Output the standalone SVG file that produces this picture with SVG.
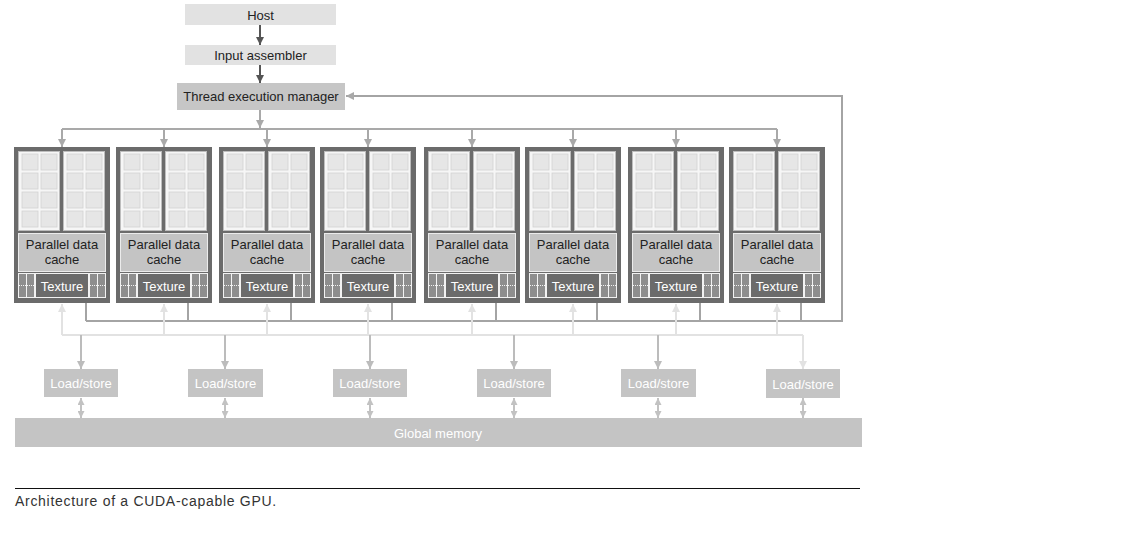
<svg xmlns="http://www.w3.org/2000/svg" xmlns:xlink="http://www.w3.org/1999/xlink" width="1130" height="542" viewBox="0 0 1130 542">
  <style>
    text { font-family: "Liberation Sans", Arial, sans-serif; }
    .box-light { fill: #e2e2e2; }
    .box-tem { fill: #c6c6c6; }
    .lbl-dark { font-size: 13px; fill: #222; text-anchor: middle; }
    .sm-frame { fill: #6b6b6b; }
    .pdc { fill: #c4c4c4; stroke: #ececec; stroke-width: 1; }
    .pdc-t { font-size: 13px; fill: #222; text-anchor: middle; }
    .tex-row { fill: #f2f2f2; }
    .tex { fill: #6b6b6b; }
    .tex-t { font-size: 13px; fill: #fff; text-anchor: middle; }
    .ls { fill: #c4c4c4; }
    .lbl-white { font-size: 13px; fill: #fff; text-anchor: middle; }
    .bus { fill: none; stroke: #a9a9a9; stroke-width: 2; }
    .ret { fill: none; stroke: #a4a4a4; stroke-width: 2; }
    .up { fill: none; stroke: #e2e2e2; stroke-width: 2; }
    .down { fill: none; stroke: #bcbcbc; stroke-width: 2; }
    .down-light { fill: none; stroke: #e2e2e2; stroke-width: 2; }
    .mem { fill: none; stroke: #c2c2c2; stroke-width: 2; }
    .host { fill: none; stroke: #555; stroke-width: 2; }
  </style>
  <defs>
    <marker id="ah-host" viewBox="0 0 10 10" refX="10" refY="5" markerWidth="8" markerHeight="8" markerUnits="userSpaceOnUse" orient="auto">
      <path d="M0,0 L10,5 L0,10 z" fill="#555"/>
    </marker>
    <marker id="ah-bus" viewBox="0 0 10 10" refX="10" refY="5" markerWidth="8" markerHeight="8" markerUnits="userSpaceOnUse" orient="auto">
      <path d="M0,0 L10,5 L0,10 z" fill="#a9a9a9"/>
    </marker>
    <marker id="ah-up" viewBox="0 0 10 10" refX="10" refY="5" markerWidth="8" markerHeight="8" markerUnits="userSpaceOnUse" orient="auto">
      <path d="M0,0 L10,5 L0,10 z" fill="#e2e2e2"/>
    </marker>
    <marker id="ah-down" viewBox="0 0 10 10" refX="10" refY="5" markerWidth="8" markerHeight="8" markerUnits="userSpaceOnUse" orient="auto">
      <path d="M0,0 L10,5 L0,10 z" fill="#bcbcbc"/>
    </marker>
    <marker id="ah-mem" viewBox="0 0 10 10" refX="10" refY="5" markerWidth="7" markerHeight="7" markerUnits="userSpaceOnUse" orient="auto-start-reverse">
      <path d="M0,0 L10,5 L0,10 z" fill="#c2c2c2"/>
    </marker>

    <!-- one column of streaming processors: 2 x 4 cells -->
    <g id="sp-col">
      <rect x="0.5" y="0.5" width="41" height="79" fill="#f6f6f6" stroke="#bdbdbd"/>
      <g fill="#e6e6e6" stroke="#d2d2d2" stroke-width="0.8">
        <rect x="4" y="3" width="16" height="16"/><rect x="23" y="3" width="16" height="16"/>
        <rect x="4" y="22" width="16" height="16"/><rect x="23" y="22" width="16" height="16"/>
        <rect x="4" y="41" width="16" height="16"/><rect x="23" y="41" width="16" height="16"/>
        <rect x="4" y="60" width="16" height="16"/><rect x="23" y="60" width="16" height="16"/>
      </g>
    </g>
    <!-- pair of small units beside the texture block -->
    <g id="tex-side">
      <rect x="1" y="1" width="7" height="23" fill="#8e8e8e"/>
      <rect x="9" y="1" width="7" height="23" fill="#8e8e8e"/>
      <line x1="1" y1="12.5" x2="16" y2="12.5" stroke="#f2f2f2" stroke-width="1" stroke-dasharray="1,1"/>
    </g>
  </defs>

  <rect width="1130" height="542" fill="#fff"/>

  <!-- connectors -->
  <g id="connectors">
    <line class="host" x1="260" y1="25" x2="260" y2="45" marker-end="url(#ah-host)"/>
    <line class="host" x1="260" y1="65" x2="260" y2="83" marker-end="url(#ah-host)"/>
    <!-- dispatch bus from the thread execution manager -->
    <line class="bus" x1="260" y1="110" x2="260" y2="128" marker-end="url(#ah-bus)"/>
    <path class="bus" d="M62,129 H777"/>
    <line class="bus" x1="62" y1="129" x2="62" y2="147" marker-end="url(#ah-bus)"/>
    <line class="bus" x1="164" y1="129" x2="164" y2="147" marker-end="url(#ah-bus)"/>
    <line class="bus" x1="267" y1="129" x2="267" y2="147" marker-end="url(#ah-bus)"/>
    <line class="bus" x1="368" y1="129" x2="368" y2="147" marker-end="url(#ah-bus)"/>
    <line class="bus" x1="472" y1="129" x2="472" y2="147" marker-end="url(#ah-bus)"/>
    <line class="bus" x1="573" y1="129" x2="573" y2="147" marker-end="url(#ah-bus)"/>
    <line class="bus" x1="676" y1="129" x2="676" y2="147" marker-end="url(#ah-bus)"/>
    <line class="bus" x1="777" y1="129" x2="777" y2="147" marker-end="url(#ah-bus)"/>
    <!-- return path to the thread execution manager -->
    <path class="ret" d="M86,303 V321 M188,303 V321 M291,303 V321 M392,303 V321 M496,303 V321 M597,303 V321 M700,303 V321 M801,303 V321"/>
    <path class="ret" d="M86,321 H842 V96 H346" marker-end="url(#ah-bus)"/>
    <!-- load path into the multiprocessors -->
    <path class="up" d="M62,335 H803"/>
    <line class="up" x1="62" y1="335" x2="62" y2="304" marker-end="url(#ah-up)"/>
    <line class="up" x1="164" y1="335" x2="164" y2="304" marker-end="url(#ah-up)"/>
    <line class="up" x1="267" y1="335" x2="267" y2="304" marker-end="url(#ah-up)"/>
    <line class="up" x1="368" y1="335" x2="368" y2="304" marker-end="url(#ah-up)"/>
    <line class="up" x1="472" y1="335" x2="472" y2="304" marker-end="url(#ah-up)"/>
    <line class="up" x1="573" y1="335" x2="573" y2="304" marker-end="url(#ah-up)"/>
    <line class="up" x1="676" y1="335" x2="676" y2="304" marker-end="url(#ah-up)"/>
    <line class="up" x1="777" y1="335" x2="777" y2="304" marker-end="url(#ah-up)"/>
    <!-- to the load/store units -->
    <line class="down" x1="81" y1="335" x2="81" y2="369" marker-end="url(#ah-down)"/>
    <line class="down" x1="225" y1="335" x2="225" y2="369" marker-end="url(#ah-down)"/>
    <line class="down" x1="370" y1="335" x2="370" y2="369" marker-end="url(#ah-down)"/>
    <line class="down" x1="514" y1="335" x2="514" y2="369" marker-end="url(#ah-down)"/>
    <line class="down" x1="658" y1="335" x2="658" y2="369" marker-end="url(#ah-down)"/>
    <line class="down-light" x1="803" y1="335" x2="803" y2="369" marker-end="url(#ah-up)"/>
    <!-- load/store to global memory -->
    <line class="mem" x1="81" y1="398" x2="81" y2="418" marker-start="url(#ah-mem)" marker-end="url(#ah-mem)"/>
    <line class="mem" x1="225" y1="398" x2="225" y2="418" marker-start="url(#ah-mem)" marker-end="url(#ah-mem)"/>
    <line class="mem" x1="370" y1="398" x2="370" y2="418" marker-start="url(#ah-mem)" marker-end="url(#ah-mem)"/>
    <line class="mem" x1="514" y1="398" x2="514" y2="418" marker-start="url(#ah-mem)" marker-end="url(#ah-mem)"/>
    <line class="mem" x1="658" y1="398" x2="658" y2="418" marker-start="url(#ah-mem)" marker-end="url(#ah-mem)"/>
    <line class="mem" x1="803" y1="398" x2="803" y2="418" marker-start="url(#ah-mem)" marker-end="url(#ah-mem)"/>
  </g>

  <!-- host side -->
  <g id="host">
    <rect class="box-light" x="185" y="4" width="151" height="21"/>
    <text class="lbl-dark" x="260.5" y="19.5">Host</text>
  </g>
  <g id="input-assembler">
    <rect class="box-light" x="185" y="45" width="151" height="20"/>
    <text class="lbl-dark" x="260.5" y="60">Input assembler</text>
  </g>
  <g id="thread-execution-manager">
    <rect class="box-tem" x="177" y="83" width="168" height="27"/>
    <text class="lbl-dark" x="261" y="101">Thread execution manager</text>
  </g>

  <!-- streaming multiprocessors -->
  <g id="sm-1" transform="translate(14,0)">
    <rect class="sm-frame" x="0" y="147" width="96" height="156"/>
    <use href="#sp-col" x="4" y="151"/><use href="#sp-col" x="49" y="151"/>
    <rect class="pdc" x="4.5" y="233.5" width="87" height="38"/>
    <text class="pdc-t" x="48" y="248.5">Parallel data</text>
    <text class="pdc-t" x="48" y="263.5">cache</text>
    <rect class="tex-row" x="4" y="273" width="88" height="25"/>
    <use href="#tex-side" x="4" y="273"/><use href="#tex-side" x="75" y="273"/>
    <rect class="tex" x="22" y="274" width="52" height="23"/>
    <text class="tex-t" x="48" y="290.5">Texture</text>
  </g>
  <g id="sm-2" transform="translate(116,0)">
    <rect class="sm-frame" x="0" y="147" width="96" height="156"/>
    <use href="#sp-col" x="4" y="151"/><use href="#sp-col" x="49" y="151"/>
    <rect class="pdc" x="4.5" y="233.5" width="87" height="38"/>
    <text class="pdc-t" x="48" y="248.5">Parallel data</text>
    <text class="pdc-t" x="48" y="263.5">cache</text>
    <rect class="tex-row" x="4" y="273" width="88" height="25"/>
    <use href="#tex-side" x="4" y="273"/><use href="#tex-side" x="75" y="273"/>
    <rect class="tex" x="22" y="274" width="52" height="23"/>
    <text class="tex-t" x="48" y="290.5">Texture</text>
  </g>
  <g id="sm-3" transform="translate(219,0)">
    <rect class="sm-frame" x="0" y="147" width="96" height="156"/>
    <use href="#sp-col" x="4" y="151"/><use href="#sp-col" x="49" y="151"/>
    <rect class="pdc" x="4.5" y="233.5" width="87" height="38"/>
    <text class="pdc-t" x="48" y="248.5">Parallel data</text>
    <text class="pdc-t" x="48" y="263.5">cache</text>
    <rect class="tex-row" x="4" y="273" width="88" height="25"/>
    <use href="#tex-side" x="4" y="273"/><use href="#tex-side" x="75" y="273"/>
    <rect class="tex" x="22" y="274" width="52" height="23"/>
    <text class="tex-t" x="48" y="290.5">Texture</text>
  </g>
  <g id="sm-4" transform="translate(320,0)">
    <rect class="sm-frame" x="0" y="147" width="96" height="156"/>
    <use href="#sp-col" x="4" y="151"/><use href="#sp-col" x="49" y="151"/>
    <rect class="pdc" x="4.5" y="233.5" width="87" height="38"/>
    <text class="pdc-t" x="48" y="248.5">Parallel data</text>
    <text class="pdc-t" x="48" y="263.5">cache</text>
    <rect class="tex-row" x="4" y="273" width="88" height="25"/>
    <use href="#tex-side" x="4" y="273"/><use href="#tex-side" x="75" y="273"/>
    <rect class="tex" x="22" y="274" width="52" height="23"/>
    <text class="tex-t" x="48" y="290.5">Texture</text>
  </g>
  <g id="sm-5" transform="translate(424,0)">
    <rect class="sm-frame" x="0" y="147" width="96" height="156"/>
    <use href="#sp-col" x="4" y="151"/><use href="#sp-col" x="49" y="151"/>
    <rect class="pdc" x="4.5" y="233.5" width="87" height="38"/>
    <text class="pdc-t" x="48" y="248.5">Parallel data</text>
    <text class="pdc-t" x="48" y="263.5">cache</text>
    <rect class="tex-row" x="4" y="273" width="88" height="25"/>
    <use href="#tex-side" x="4" y="273"/><use href="#tex-side" x="75" y="273"/>
    <rect class="tex" x="22" y="274" width="52" height="23"/>
    <text class="tex-t" x="48" y="290.5">Texture</text>
  </g>
  <g id="sm-6" transform="translate(525,0)">
    <rect class="sm-frame" x="0" y="147" width="96" height="156"/>
    <use href="#sp-col" x="4" y="151"/><use href="#sp-col" x="49" y="151"/>
    <rect class="pdc" x="4.5" y="233.5" width="87" height="38"/>
    <text class="pdc-t" x="48" y="248.5">Parallel data</text>
    <text class="pdc-t" x="48" y="263.5">cache</text>
    <rect class="tex-row" x="4" y="273" width="88" height="25"/>
    <use href="#tex-side" x="4" y="273"/><use href="#tex-side" x="75" y="273"/>
    <rect class="tex" x="22" y="274" width="52" height="23"/>
    <text class="tex-t" x="48" y="290.5">Texture</text>
  </g>
  <g id="sm-7" transform="translate(628,0)">
    <rect class="sm-frame" x="0" y="147" width="96" height="156"/>
    <use href="#sp-col" x="4" y="151"/><use href="#sp-col" x="49" y="151"/>
    <rect class="pdc" x="4.5" y="233.5" width="87" height="38"/>
    <text class="pdc-t" x="48" y="248.5">Parallel data</text>
    <text class="pdc-t" x="48" y="263.5">cache</text>
    <rect class="tex-row" x="4" y="273" width="88" height="25"/>
    <use href="#tex-side" x="4" y="273"/><use href="#tex-side" x="75" y="273"/>
    <rect class="tex" x="22" y="274" width="52" height="23"/>
    <text class="tex-t" x="48" y="290.5">Texture</text>
  </g>
  <g id="sm-8" transform="translate(729,0)">
    <rect class="sm-frame" x="0" y="147" width="96" height="156"/>
    <use href="#sp-col" x="4" y="151"/><use href="#sp-col" x="49" y="151"/>
    <rect class="pdc" x="4.5" y="233.5" width="87" height="38"/>
    <text class="pdc-t" x="48" y="248.5">Parallel data</text>
    <text class="pdc-t" x="48" y="263.5">cache</text>
    <rect class="tex-row" x="4" y="273" width="88" height="25"/>
    <use href="#tex-side" x="4" y="273"/><use href="#tex-side" x="75" y="273"/>
    <rect class="tex" x="22" y="274" width="52" height="23"/>
    <text class="tex-t" x="48" y="290.5">Texture</text>
  </g>

  <!-- load/store units -->
  <g id="ls-1"><rect class="ls" x="44" y="369" width="74" height="28"/><text class="lbl-white" x="81" y="387.5">Load/store</text></g>
  <g id="ls-2"><rect class="ls" x="188" y="369" width="75" height="28"/><text class="lbl-white" x="225.5" y="387.5">Load/store</text></g>
  <g id="ls-3"><rect class="ls" x="333" y="369" width="74" height="28"/><text class="lbl-white" x="370" y="387.5">Load/store</text></g>
  <g id="ls-4"><rect class="ls" x="477" y="369" width="74" height="28"/><text class="lbl-white" x="514" y="387.5">Load/store</text></g>
  <g id="ls-5"><rect class="ls" x="621" y="369" width="75" height="28"/><text class="lbl-white" x="658.5" y="387.5">Load/store</text></g>
  <g id="ls-6"><rect class="ls" x="766" y="369" width="74" height="29"/><text class="lbl-white" x="803" y="388.5">Load/store</text></g>

  <g id="global-memory">
    <rect class="ls" x="15" y="418" width="847" height="29"/>
    <text class="lbl-white" x="438" y="437.5">Global memory</text>
  </g>

  <!-- caption -->
  <g id="caption">
    <line x1="15" y1="488.5" x2="860" y2="488.5" stroke="#111" stroke-width="1"/>
    <text x="15" y="506" font-size="14" fill="#333" letter-spacing="0.7">Architecture of a CUDA-capable GPU.</text>
  </g>
</svg>
